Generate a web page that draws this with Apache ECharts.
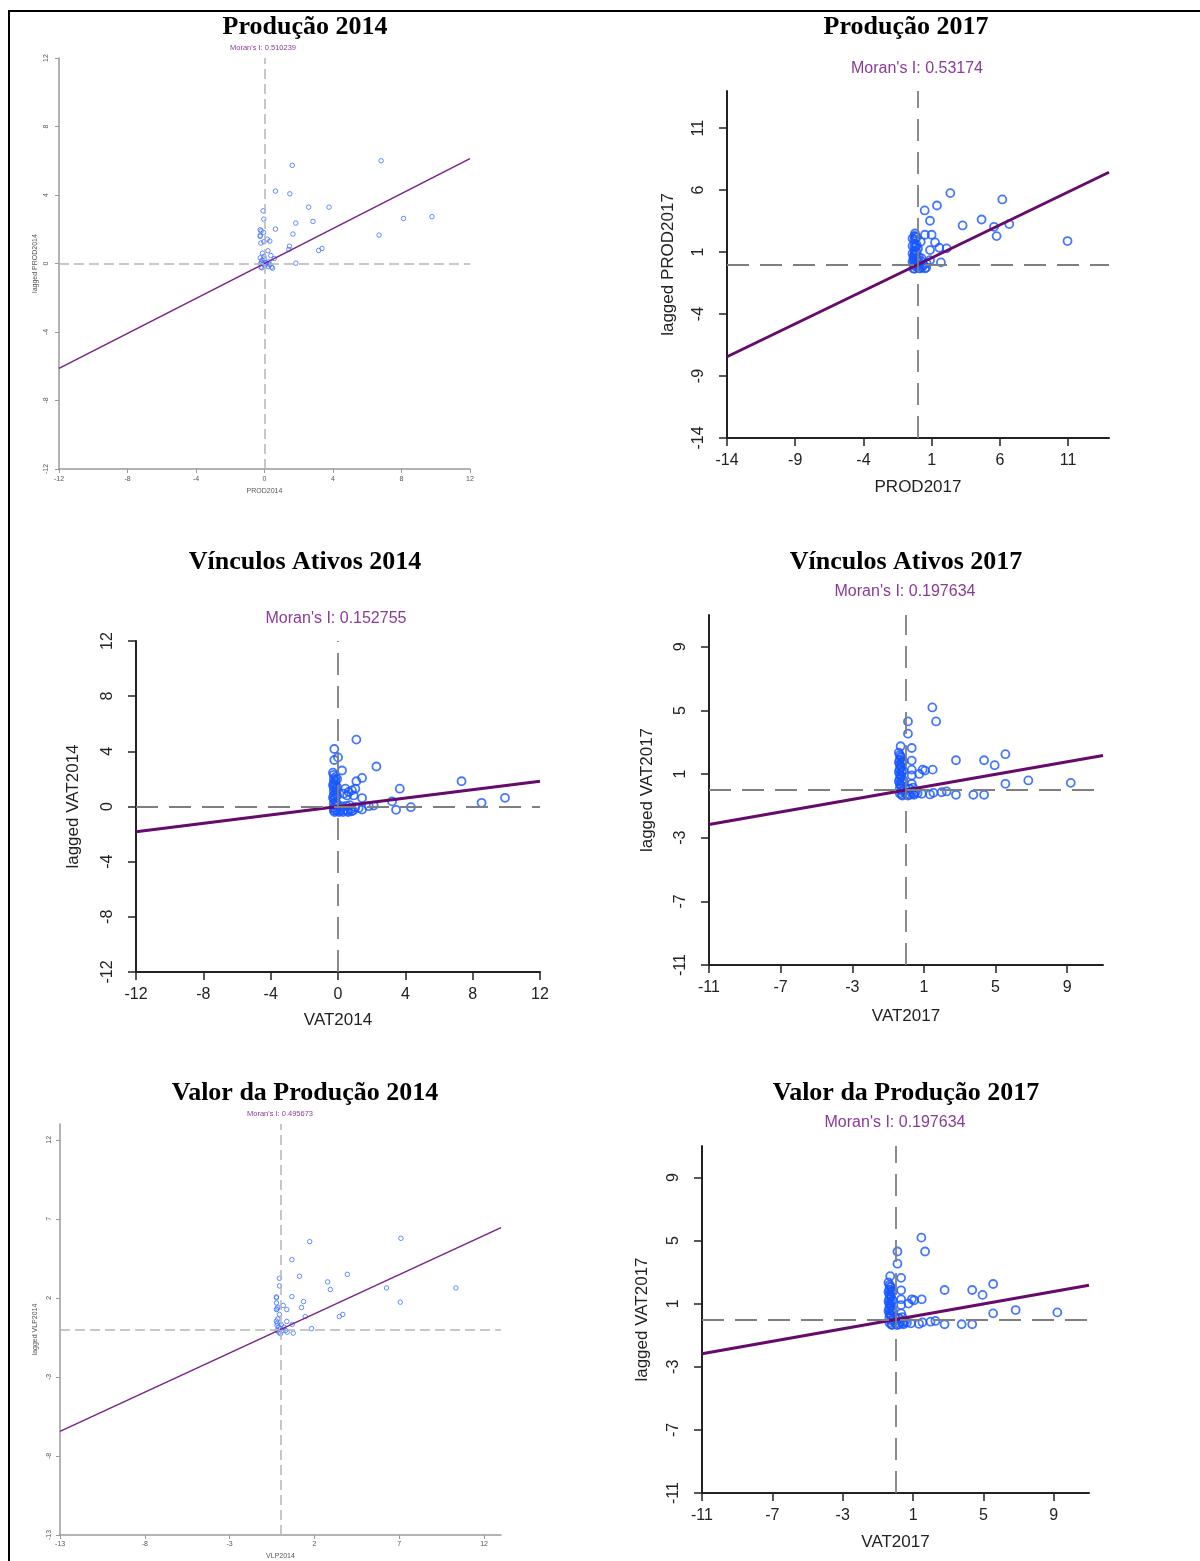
<!DOCTYPE html>
<html><head><meta charset="utf-8">
<script src="https://cdn.jsdelivr.net/npm/echarts@6/dist/echarts.min.js"></script>
<style>html,body{margin:0;padding:0;background:#fff}#chart{width:1200px;height:1561px}</style>
</head><body><div id="chart"></div>
<script>
// ---------- DATA ----------
const panelTitles = ['Produção 2014','Produção 2017','Vínculos Ativos 2014','Vínculos Ativos 2017','Valor da Produção 2014','Valor da Produção 2017'];
const moranValues = [0.510239, 0.53174, 0.152755, 0.197634, 0.495673, 0.197634];
const moranLabels = ["Moran's I: 0.510239","Moran's I: 0.53174","Moran's I: 0.152755","Moran's I: 0.197634","Moran's I: 0.495673","Moran's I: 0.197634"];
const xNames = ['PROD2014','PROD2017','VAT2014','VAT2017','VLP2014','VAT2017'];
const yNames = ['lagged PROD2014','lagged PROD2017','lagged VAT2014','lagged VAT2017','lagged VLP2014','lagged VAT2017'];
const axisRanges = [[-12,12],[-14,14],[-12,12],[-11,11],[-13,13],[-11,11]];
const tickLabels = [
  [-12,-8,-4,0,4,8,12],
  [-14,-9,-4,1,6,11],
  [-12,-8,-4,0,4,8,12],
  [-11,-7,-3,1,5,9],
  [-13,-8,-3,2,7,12],
  [-11,-7,-3,1,5,9]
];
const prod2014 = [[1.62,5.73],[6.81,6.0],[0.64,4.23],[1.48,4.07],[2.58,3.29],[3.77,3.29],[-0.08,3.08],[-0.04,2.59],[1.83,2.36],[2.83,2.46],[8.12,2.63],[9.78,2.73],[0.64,2.01],[-0.25,1.97],[1.66,1.72],[6.69,1.66],[-0.25,1.58],[-0.06,1.81],[-0.21,1.19],[0.16,1.42],[0.31,1.31],[-0.04,1.27],[0.2,0.74],[1.46,1.01],[1.42,0.82],[3.16,0.76],[3.36,0.88],[1.83,0.02],[0.37,0.47],[-0.12,0.6],[-0.04,0.41],[0.57,0.29],[-0.18,0.08],[-0.08,-0.02],[0.02,-0.12],[0.12,-0.02],[-0.21,-0.21],[0.21,-0.18],[0.31,-0.06],[0.41,-0.21],[0.47,-0.27],[-0.14,0.18],[-0.02,0.27],[-0.25,0.33],[-0.25,1.65],[-0.2,1.9],[-0.22,0.0],[-0.15,-0.25],[0.05,0.05],[0.25,0.1]];
const prod2017 = [[2.37,5.76],[1.39,4.76],[0.49,4.36],[6.18,5.25],[0.88,3.53],[3.27,3.15],[4.66,3.63],[5.57,3.04],[6.69,3.26],[5.76,2.29],[10.96,1.89],[-0.22,2.5],[-0.22,2.24],[0.51,2.4],[1.0,2.4],[0.2,1.83],[1.25,1.78],[0.88,1.16],[1.56,1.35],[2.1,1.3],[-0.15,1.43],[-0.24,0.89],[1.68,0.17],[-0.34,0.62],[-0.34,0.35],[-0.22,0.09],[-0.1,-0.18],[0.15,-0.32],[0.39,-0.05],[0.63,0.09],[0.88,0.35],[0.27,0.49],[0.02,0.22],[-0.34,-0.32],[0.51,-0.32],[-0.25,2.3],[-0.25,2.0],[-0.25,1.7],[-0.25,1.4],[-0.25,1.1],[-0.25,0.8],[-0.25,0.5],[-0.25,0.2],[-0.25,-0.1],[-0.25,-0.35],[-0.1,2.2],[-0.1,1.6],[-0.1,1.0],[-0.1,0.5],[-0.1,0.0],[0.05,0.6],[0.05,-0.3],[0.3,-0.2],[0.6,-0.25],[0.2,0.3],[-0.4,2.1],[-0.4,1.5],[-0.4,0.9],[-0.4,0.2],[0.0,1.3]];
const vat2014 = [[1.09,4.85],[-0.22,4.17],[0.0,3.56],[-0.22,3.37],[2.28,2.9],[0.24,2.61],[1.43,2.07],[1.09,1.83],[3.67,1.29],[7.34,1.83],[9.92,0.63],[8.53,0.27],[0.44,1.29],[0.63,1.05],[0.83,1.17],[1.03,1.29],[0.54,0.8],[0.93,0.8],[0.34,0.93],[1.43,0.61],[3.21,0.37],[3.45,-0.24],[4.33,-0.05],[1.43,-0.22],[1.23,-0.12],[1.03,-0.05],[1.83,0.02],[2.12,0.07],[-0.25,2.3],[-0.25,2.0],[-0.25,1.7],[-0.25,1.4],[-0.25,1.1],[-0.25,0.8],[-0.25,0.5],[-0.25,0.2],[-0.25,-0.1],[-0.25,-0.3],[-0.15,2.15],[-0.15,1.85],[-0.15,1.55],[-0.15,1.25],[-0.15,0.95],[-0.15,0.65],[-0.15,0.35],[-0.15,0.05],[-0.15,-0.25],[-0.05,2.0],[-0.05,1.4],[-0.05,0.8],[-0.05,0.2],[-0.05,-0.3],[0.15,-0.3],[0.35,-0.25],[0.55,-0.3],[0.75,-0.2],[0.9,-0.3],[0.25,0.0],[0.5,0.05],[0.7,0.1],[-0.3,2.45],[-0.3,1.55],[-0.3,0.65],[-0.2,-0.4],[0.05,-0.4],[0.3,-0.4],[0.6,-0.4],[0.8,-0.35]];
const vat2017 = [[1.47,5.19],[1.68,4.31],[0.11,4.31],[0.11,3.54],[-0.3,2.75],[0.32,2.64],[2.79,1.87],[4.36,1.87],[5.55,2.25],[4.95,1.56],[0.32,1.85],[0.32,1.28],[0.93,1.28],[1.06,1.22],[0.74,1.01],[1.49,1.28],[5.55,0.39],[6.83,0.6],[9.2,0.45],[2.79,-0.3],[3.76,-0.3],[4.36,-0.3],[2.27,-0.09],[1.99,-0.14],[1.34,-0.28],[1.53,-0.18],[0.88,-0.24],[0.32,0.39],[0.32,0.91],[0.22,0.07],[0.41,-0.24],[-0.35,2.2],[-0.35,1.9],[-0.35,1.6],[-0.35,1.3],[-0.35,1.0],[-0.35,0.7],[-0.35,0.4],[-0.35,0.1],[-0.35,-0.2],[-0.25,2.05],[-0.25,1.75],[-0.25,1.45],[-0.25,1.15],[-0.25,0.85],[-0.25,0.55],[-0.25,0.25],[-0.25,-0.05],[-0.25,-0.3],[-0.15,1.8],[-0.15,1.2],[-0.15,0.6],[-0.15,0.0],[0.0,-0.25],[0.2,-0.3],[0.45,-0.3],[0.65,-0.2],[0.15,0.1],[0.4,0.15],[-0.4,2.35],[-0.3,2.1],[-0.3,1.5],[-0.3,0.9],[-0.3,0.3],[-0.4,0.55],[-0.4,1.15],[-0.4,1.75],[-0.2,-0.35],[0.1,-0.35],[0.3,-0.15],[0.55,-0.1]];
const vlp2014 = [[1.72,5.56],[7.1,5.77],[0.67,4.42],[1.12,3.37],[3.94,3.49],[2.78,3.01],[2.94,2.53],[6.25,2.63],[10.34,2.63],[-0.06,3.24],[-0.06,2.76],[-0.24,2.06],[-0.24,1.68],[0.67,2.08],[1.36,1.77],[7.06,1.73],[0.16,1.52],[-0.16,1.41],[-0.24,1.26],[0.37,1.26],[1.24,1.39],[1.46,0.82],[3.47,0.82],[3.67,0.95],[-0.06,0.95],[-0.16,0.67],[-0.24,0.53],[0.37,0.51],[1.83,0.06],[0.75,-0.23],[0.69,0.32],[-0.2,0.25],[-0.1,0.15],[0,0.04],[0.1,-0.06],[0.2,0.15],[0.3,-0.06],[0.39,-0.17],[-0.2,-0.06],[-0.1,-0.17],[0,-0.27],[-0.24,2.0],[-0.2,1.3],[-0.2,0.4],[0.05,0.3]];
const panelData = [prod2014, prod2017, vat2014, vat2017, vlp2014, vat2017];

// ---------- LAYOUT / STYLE ----------
const layout = [
  {grid:{left:59,top:58,width:411,height:411}, small:true, title:[305,27], moran:[263,48], xm:6.5, xg:19, ym:9, yg:20},
  {grid:{left:727,top:91,width:382,height:347}, small:false, title:[906,27], moran:[917,69], xm:15, xg:41, ym:20, yg:50},
  {grid:{left:136,top:641,width:404,height:331}, small:false, title:[305,562], moran:[336,619], xm:15, xg:40, ym:20, yg:54},
  {grid:{left:709,top:615,width:394,height:350}, small:false, title:[906,562], moran:[905,592], xm:15, xg:43, ym:20, yg:53},
  {grid:{left:60,top:1124,width:441,height:412}, small:true, title:[305,1093], moran:[280,1114], xm:6, xg:18, ym:7.5, yg:21},
  {grid:{left:702,top:1146,width:387,height:347}, small:false, title:[906,1093], moran:[895,1123], xm:15, xg:41, ym:20, yg:51}
];
const SANS = 'Liberation Sans, Arial, sans-serif';

const option = {animation:false, backgroundColor:'#fff', grid:[], xAxis:[], yAxis:[], series:[], graphic:[]};

function makeAxis(i, isY) {
  const L = layout[i], S = L.small, r = axisRanges[i], t = tickLabels[i];
  const axisColor = S ? '#9a9a9a' : '#222';
  return {
    type:'value', gridIndex:i, min:r[0], max:r[1],
    position: isY ? 'left' : 'bottom',
    name: isY ? yNames[i] : xNames[i], nameLocation:'middle',
    nameGap: isY ? L.yg : L.xg,
    nameTextStyle:{fontFamily:SANS, fontSize:S?7:17, color:S?'#555':'#222'},
    axisLine:{show:true, onZero:false, lineStyle:{color:axisColor, width:S?1.5:2}},
    axisTick:{show:true, customValues:t, length:S?4:8, lineStyle:{color:axisColor, width:S?1:1.5}},
    axisLabel:{show:true, customValues:t, rotate:isY?90:0, margin:isY?L.ym:L.xm,
      fontFamily:SANS, fontSize:S?7:16, color:S?'#555':'#222'},
    splitLine:{show:false}
  };
}

panelData.forEach((pts, i) => {
  const L = layout[i], S = L.small, r = axisRanges[i], I = moranValues[i];
  option.grid.push(L.grid);
  option.xAxis.push(makeAxis(i, false));
  option.yAxis.push(makeAxis(i, true));
  option.series.push({
    type:'scatter', xAxisIndex:i, yAxisIndex:i, data:pts,
    symbol:'circle', symbolSize:S?4.5:8,
    itemStyle:{color:'rgba(0,0,0,0)', borderColor:S?'#3d72ff':'#1656ff', borderWidth:S?1:1.8},
    silent:true, z:2,
    markLine:{silent:true, symbol:'none', label:{show:false},
      lineStyle:{type:S?[10,5]:[22,11], color:S?'#b5b5b5':'#7f7f7f', width:S?1.5:1.8},
      data:[{xAxis:0},{yAxis:0}]}
  });
  option.series.push({
    type:'line', xAxisIndex:i, yAxisIndex:i, symbol:'none', silent:true, z:3,
    data:[[r[0], I*r[0]],[r[1], I*r[1]]],
    lineStyle:{color:S?'#7a2488':'#660a6b', width:S?1.6:3}
  });
  option.graphic.push({type:'text', x:L.title[0], y:L.title[1], silent:true,
    style:{text:panelTitles[i], fill:'#000', font:'bold 26px "Liberation Serif", "Times New Roman", serif', textAlign:'center', textVerticalAlign:'middle'}});
  option.graphic.push({type:'text', x:L.moran[0], y:L.moran[1], silent:true,
    style:{text:moranLabels[i], fill:'#8a3a98', font:(S?'7.5px ':'16px ')+SANS, textAlign:'center', textVerticalAlign:'middle'}});
});
// page frame lines
option.graphic.push({type:'line', silent:true, shape:{x1:8, y1:11, x2:1200, y2:11}, style:{stroke:'#000', lineWidth:2}});
option.graphic.push({type:'line', silent:true, shape:{x1:9, y1:10, x2:9, y2:1561}, style:{stroke:'#000', lineWidth:2}});

const chart = echarts.init(document.getElementById('chart'), null, {renderer:'canvas'});
chart.setOption(option);
</script></body></html>
